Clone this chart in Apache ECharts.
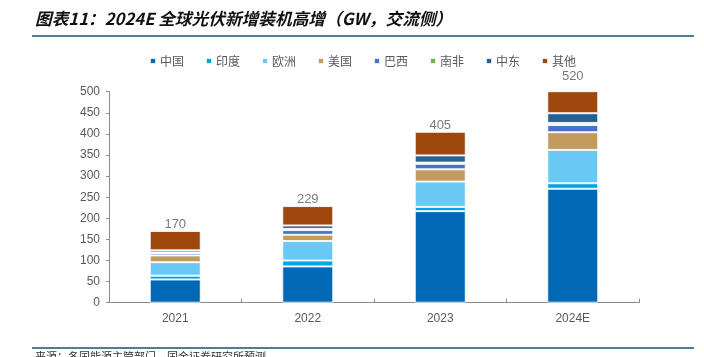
<!DOCTYPE html>
<html><head><meta charset="utf-8">
<script src="https://cdn.jsdelivr.net/npm/echarts@6/dist/echarts.min.js"></script>
<style>html,body{margin:0;padding:0;background:#fff}#c{width:704px;height:357px}</style>
</head><body><div id="c"></div>
<script>
const categories = ['2021', '2022', '2023', '2024E'];
const seriesNames = ['中国', '印度', '欧洲', '美国', '巴西', '南非', '中东', '其他'];
const china = [55, 86, 217, 270];
const india = [9, 14, 10, 13];
const europe = [32, 46, 60, 79];
const usa = [16, 15, 29, 42];
const brazil = [5, 11, 13, 17];
const southAfrica = [2, 3, 3, 5];
const middleEast = [5, 8, 17, 23];
const others = [46, 46, 56, 71];
const totals = [170, 229, 405, 520];
const yTicks = { min: 0, max: 500, interval: 50 };
const colors = ['#0068b5', '#00a2e8', '#6ac8f5', '#c29b5d', '#4673c7', '#72b04a', '#265f91', '#9e480e'];
const title = '图表11：2024E 全球光伏新增装机高增（GW，交流侧）';
const source = '来源：各国能源主管部门，国金证券研究所预测';

const values = [china, india, europe, usa, brazil, southAfrica, middleEast, others];
const chart = echarts.init(document.getElementById('c'));
const barSeries = seriesNames.map((n, i) => ({
  name: n, type: 'bar', stack: 'total', barWidth: 51, data: values[i],
  itemStyle: { color: colors[i], borderColor: 'rgba(255,255,255,0.85)', borderWidth: 1 },
  emphasis: { disabled: true }
}));
barSeries.push({
  name: 'total', type: 'scatter', data: totals, symbolSize: 0, clip: false,
  itemStyle: { color: 'transparent' },
  label: { show: true, position: 'top', distance: 0, color: '#595959', fontSize: 13, fontFamily: 'Liberation Sans, Arial' },
  z: 10
});
chart.setOption({
  animation: false,
  color: colors,
  textStyle: { fontFamily: 'Liberation Sans, "Noto Sans CJK SC", sans-serif' },
  legend: {
    data: seriesNames, left: 149, top: 55, padding: 0,
    icon: 'rect', itemWidth: 6, itemHeight: 6, itemGap: 21,
    textStyle: { color: '#595959', fontSize: 12, fontFamily: '"Noto Sans CJK SC", sans-serif', padding: [0, 0, 0, -1] }
  },
  grid: { left: 109, right: 65, top: 91.7, bottom: 54.3 },
  xAxis: {
    type: 'category', data: categories,
    axisLine: { lineStyle: { color: '#898989', width: 1 } },
    axisTick: { show: true, inside: true, length: 4, lineStyle: { color: '#898989' } },
    axisLabel: { color: '#595959', fontSize: 12, margin: 10 }
  },
  yAxis: {
    type: 'value', min: yTicks.min, max: yTicks.max, interval: yTicks.interval,
    splitLine: { show: false },
    axisLine: { show: true, lineStyle: { color: '#898989', width: 1 } },
    axisTick: { show: true, length: 3, lineStyle: { color: '#898989' } },
    axisLabel: { color: '#595959', fontSize: 12, margin: 9 }
  },
  series: barSeries,
  graphic: [
    { type: 'text', left: 35, top: 10, style: { text: title, fontSize: 16.7, fontWeight: 'bold', fontStyle: 'italic', fill: '#111', fontFamily: '"Noto Sans CJK SC", sans-serif' } },
    { type: 'rect', shape: { x: 32, y: 35, width: 662, height: 2 }, style: { fill: '#4e7d98' } },
    { type: 'rect', shape: { x: 32, y: 347, width: 662, height: 2 }, style: { fill: '#4e7d98' } },
    { type: 'text', left: 35, top: 351, style: { text: source, fontSize: 11, fill: '#333', fontFamily: '"Noto Sans CJK SC", sans-serif' } }
  ]
});
</script></body></html>
